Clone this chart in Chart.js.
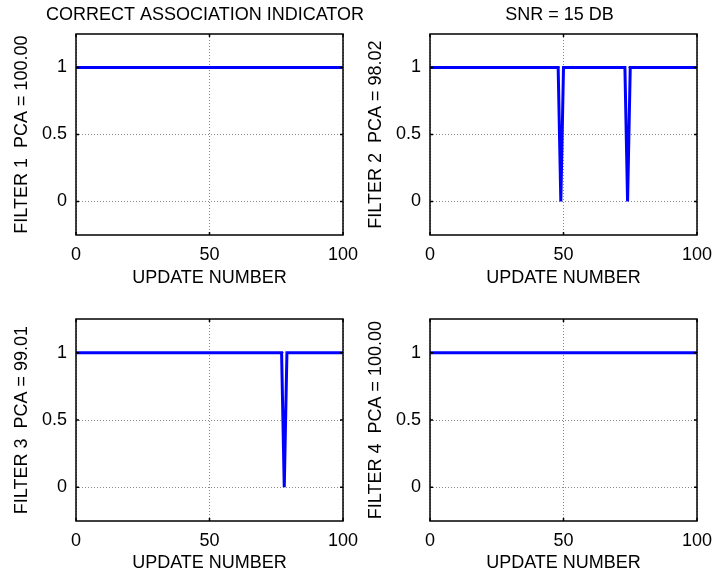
<!DOCTYPE html>
<html lang="en">
<head>
  <meta charset="UTF-8">
  <title>Correct Association Indicator</title>
  <script src="https://cdn.jsdelivr.net/npm/chart.js"></script>
  <style>
    body { margin: 0; background: #fff; }
    #wrap { position: relative; width: 712px; height: 575px; overflow: hidden; }
    canvas { position: absolute; }
  </style>
</head>
<body>
  <div id="wrap">
    <canvas id="filter1" width="410" height="290" style="left:0;top:0"></canvas>
    <canvas id="filter2" width="411" height="290" style="left:354px;top:0"></canvas>
    <canvas id="filter3" width="358" height="285" style="left:0;top:290px"></canvas>
    <canvas id="filter4" width="358" height="285" style="left:354px;top:290px"></canvas>
  </div>

  <script>
    // update number / indicator breakpoints for each filter (1 = correct, 0 = miss)
    const filter1X = [0, 100];
    const filter1Y = [1, 1];
    const filter2X = [0, 48, 49, 50, 73, 74, 75, 100];
    const filter2Y = [1, 1, 0, 1, 1, 0, 1, 1];
    const filter3X = [0, 77, 78, 79, 100];
    const filter3Y = [1, 1, 0, 1, 1];
    const filter4X = [0, 100];
    const filter4Y = [1, 1];

    const pcaValues = ['100.00', '98.02', '99.01', '100.00'];
    const xTicks = [0, 50, 100];
    const yTicks = [0, 0.5, 1];

    const FONT = 'Liberation Sans, Arial, sans-serif';

    // MATLAB style box with inward tick marks
    const boxPlugin = {
      id: 'box',
      afterDatasetsDraw(chart) {
        const ctx = chart.ctx;
        const a = chart.chartArea;
        const x = chart.scales.x;
        const y = chart.scales.y;
        ctx.save();
        ctx.strokeStyle = '#000';
        ctx.lineWidth = 1.5;
        ctx.beginPath();
        x.ticks.forEach(t => {
          const px = x.getPixelForValue(t.value);
          ctx.moveTo(px, a.top); ctx.lineTo(px, a.top + 3);
          ctx.moveTo(px, a.bottom); ctx.lineTo(px, a.bottom - 3);
        });
        y.ticks.forEach(t => {
          const py = y.getPixelForValue(t.value);
          ctx.moveTo(a.left, py); ctx.lineTo(a.left + 3, py);
          ctx.moveTo(a.right, py); ctx.lineTo(a.right - 3, py);
        });
        ctx.stroke();
        ctx.strokeRect(a.left, a.top, a.right - a.left, a.bottom - a.top);
        ctx.restore();
      }
    };

    function makeChart(id, xs, ys, n, title, topRow, rightPad) {
      const points = xs.map((v, i) => ({ x: v, y: ys[i] }));
      return new Chart(document.getElementById(id), {
        type: 'line',
        data: {
          datasets: [{
            data: points,
            borderColor: '#0000ff',
            borderWidth: 3,
            pointRadius: 0,
            tension: 0,
            fill: false
          }]
        },
        options: {
          responsive: false,
          animation: false,
          layout: { padding: { left: 0, right: 0, top: topRow ? 0 : 29, bottom: 0 } },
          plugins: {
            legend: { display: false },
            tooltip: { enabled: false },
            title: {
              display: topRow,
              text: title,
              color: '#000',
              font: { family: FONT, size: 18, weight: 'normal' },
              padding: { top: 4, bottom: 8.4 }
            }
          },
          scales: {
            x: {
              type: 'linear',
              min: 0,
              max: 100,
              afterBuildTicks: s => { s.ticks = xTicks.map(v => ({ value: v })); },
              afterFit: s => {
                s.height = topRow ? 55 : 54;
                s.paddingLeft = 0;
                s.paddingRight = rightPad;
              },
              ticks: { color: '#000', padding: 9, font: { family: FONT, size: 18 } },
              grid: { color: '#888', lineWidth: 1, drawTicks: false },
              border: { display: false, dash: [1, 2] },
              title: {
                display: true,
                text: 'UPDATE NUMBER',
                color: '#000',
                font: { family: FONT, size: 18 },
                padding: { top: 0, bottom: 1.5 }
              }
            },
            y: {
              type: 'linear',
              min: -0.25,
              max: 1.25,
              afterBuildTicks: s => { s.ticks = yTicks.map(v => ({ value: v })); },
              afterFit: s => {
                s.width = 76;
                s.paddingTop = 0;
                s.paddingBottom = 0;
              },
              ticks: {
                color: '#000',
                padding: 9,
                font: { family: FONT, size: 18 },
                callback: v => String(v)
              },
              grid: { color: '#888', lineWidth: 1, drawTicks: false },
              border: { display: false, dash: [1, 2] },
              title: {
                display: true,
                text: 'FILTER ' + n + '  PCA = ' + pcaValues[n - 1],
                color: '#000',
                font: { family: FONT, size: 18 },
                padding: { top: 11, bottom: 0 }
              }
            }
          }
        },
        plugins: [boxPlugin]
      });
    }

    makeChart('filter1', filter1X, filter1Y, 1, 'CORRECT ASSOCIATION INDICATOR', true, 67);
    makeChart('filter2', filter2X, filter2Y, 2, 'SNR = 15 DB', true, 68);
    makeChart('filter3', filter3X, filter3Y, 3, '', false, 15);
    makeChart('filter4', filter4X, filter4Y, 4, '', false, 15);
  </script>
</body>
</html>
